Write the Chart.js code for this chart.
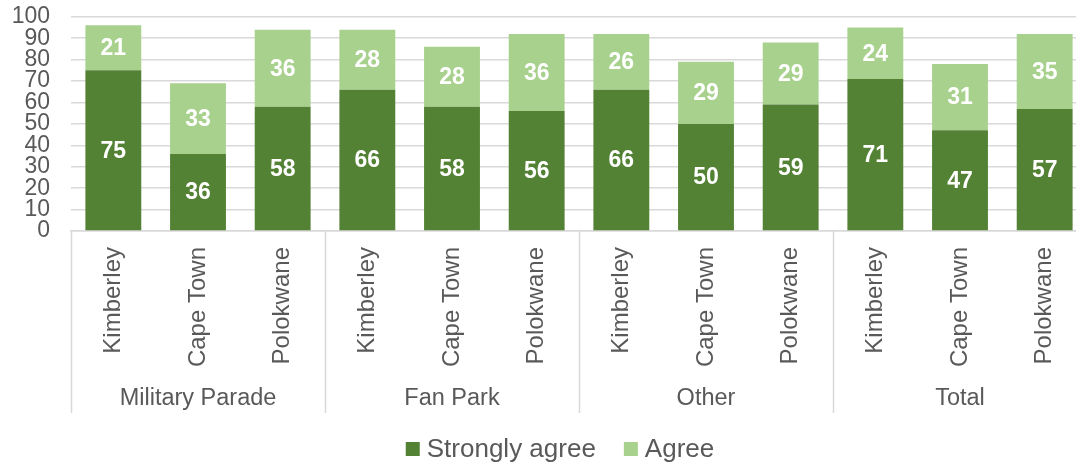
<!DOCTYPE html>
<html lang="en">
<head>
  <meta charset="utf-8">
  <title>Agreement by venue</title>
  <style>
    html, body { margin: 0; padding: 0; background: #fff; overflow: hidden; }
  </style>
</head>
<body>
  <canvas id="chart" width="1090" height="466"></canvas>

  <script src="https://cdn.jsdelivr.net/npm/chart.js"></script>
  <script>
    const groups = ['Military Parade', 'Fan Park', 'Other', 'Total'];
    const cities = ['Kimberley', 'Cape Town', 'Polokwane'];
    const stronglyAgree = [75, 36, 58, 66, 58, 56, 66, 50, 59, 71, 47, 57];
    const agree = [21, 33, 36, 28, 28, 36, 26, 29, 29, 24, 31, 35];

    const DARK = '#548235';
    const LIGHT = '#A9D18E';
    const GREY = '#d9d9d9';
    const TEXT = '#595959';
    const FONT = "'Liberation Sans', Arial, sans-serif";

    Chart.defaults.font.family = FONT;
    Chart.defaults.color = TEXT;

    // one city label per bar, repeated for every group
    const labels = [];
    groups.forEach(() => cities.forEach(c => labels.push(c)));

    // value written in the middle of each bar segment
    const barValues = {
      id: 'barValues',
      afterDatasetsDraw(chart) {
        const ctx = chart.ctx;
        ctx.save();
        ctx.font = 'bold 23px ' + FONT;
        ctx.fillStyle = '#fff';
        ctx.textAlign = 'center';
        ctx.textBaseline = 'middle';
        chart.data.datasets.forEach((ds, di) => {
          chart.getDatasetMeta(di).data.forEach((bar, i) => {
            ctx.fillText(String(ds.data[i]), bar.x, (bar.y + bar.base) / 2 + 1);
          });
        });
        ctx.restore();
      }
    };

    // group names and separators under the city labels
    const groupAxis = {
      id: 'groupAxis',
      afterDraw(chart) {
        const x = chart.scales.x;
        const ctx = chart.ctx;
        const step = x.getPixelForValue(1) - x.getPixelForValue(0);
        const top = x.top;
        const bottom = x.top + 182;
        ctx.save();
        ctx.strokeStyle = GREY;
        ctx.lineWidth = 1.5;
        for (let g = 0; g <= groups.length; g++) {
          const px = Math.round(x.getPixelForValue(g * cities.length) - step / 2) + 0.5;
          ctx.beginPath();
          ctx.moveTo(px, top);
          ctx.lineTo(px, bottom);
          ctx.stroke();
        }
        ctx.font = '23.5px ' + FONT;
        ctx.fillStyle = TEXT;
        ctx.textAlign = 'center';
        ctx.textBaseline = 'middle';
        groups.forEach((name, g) => {
          const a = x.getPixelForValue(g * cities.length);
          const b = x.getPixelForValue(g * cities.length + cities.length - 1);
          ctx.fillText(name, (a + b) / 2, top + 168);
        });
        ctx.restore();
      }
    };

    // legend drawn by hand so the gaps can be set freely
    const legendRow = {
      id: 'legendRow',
      afterDraw(chart) {
        const ctx = chart.ctx;
        const box = 14, gap = 7, spacing = 28, cy = 449;
        ctx.save();
        ctx.font = '26px ' + FONT;
        ctx.textBaseline = 'middle';
        const items = chart.data.datasets.map(ds => ({
          text: ds.label, color: ds.backgroundColor, w: ctx.measureText(ds.label).width
        }));
        const total = items.reduce((s, it) => s + box + gap + it.w, 0) + spacing * (items.length - 1);
        let x = 560 - total / 2;
        items.forEach(it => {
          ctx.fillStyle = it.color;
          ctx.fillRect(x, cy - box / 2, box, box);
          x += box + gap;
          ctx.fillStyle = TEXT;
          ctx.fillText(it.text, x, cy + 1);
          x += it.w + spacing;
        });
        ctx.restore();
      }
    };

    new Chart(document.getElementById('chart'), {
      type: 'bar',
      data: {
        labels: labels,
        datasets: [
          { label: 'Strongly agree', data: stronglyAgree, backgroundColor: DARK },
          { label: 'Agree', data: agree, backgroundColor: LIGHT }
        ]
      },
      options: {
        responsive: false,
        animation: false,
        devicePixelRatio: 1,
        barPercentage: 1,
        categoryPercentage: 0.66,
        layout: { padding: { top: 0, right: 3, left: 0, bottom: 45 } },
        scales: {
          x: {
            stacked: true,
            grid: { display: false },
            border: { display: true, color: GREY, width: 1.5 },
            ticks: {
              autoSkip: false,
              minRotation: 90,
              maxRotation: 90,
              padding: 8,
              font: { size: 24 }
            },
            afterFit(scale) { scale.height = 190; }
          },
          y: {
            stacked: true,
            min: 0,
            max: 100,
            grid: { color: GREY, lineWidth: 1.5, drawTicks: true, tickLength: 18, tickColor: 'rgba(0,0,0,0)' },
            border: { display: false },
            ticks: {
              stepSize: 10,
              autoSkip: false,
              padding: 3,
              font: { size: 23 }
            },
            afterFit(scale) { scale.width = 71; }
          }
        },
        plugins: {
          legend: { display: false },
          tooltip: { enabled: false }
        }
      },
      plugins: [barValues, groupAxis, legendRow]
    });
  </script>
</body>
</html>
